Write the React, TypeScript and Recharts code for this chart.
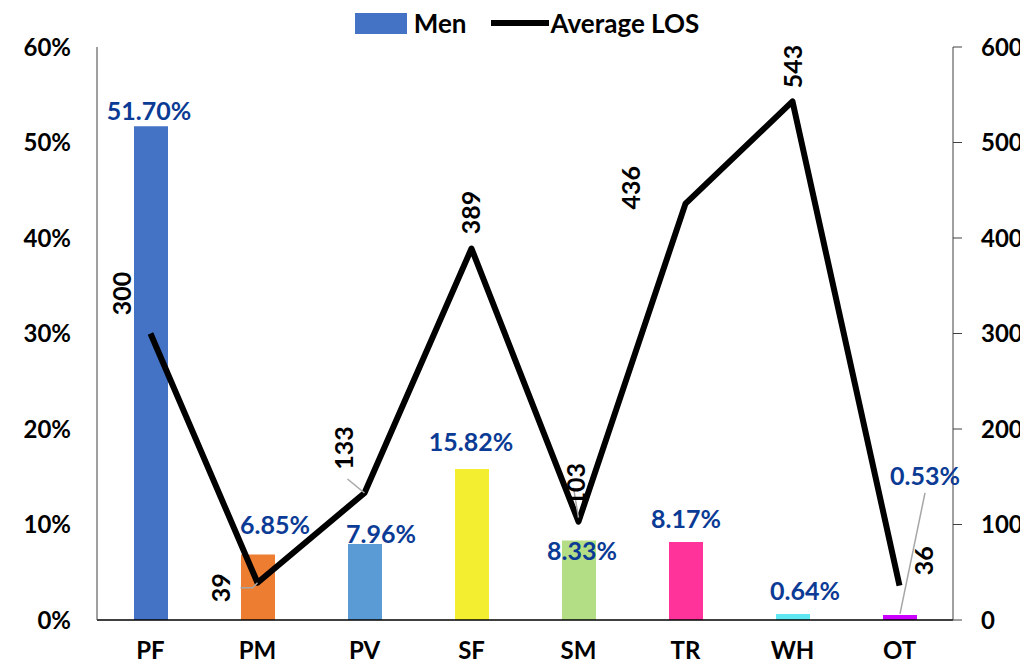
import React from 'react';
import {
  ComposedChart,
  Bar,
  Line,
  XAxis,
  YAxis,
  Cell,
  Legend,
  LabelList,
} from 'recharts';

const categories = ['PF', 'PM', 'PV', 'SF', 'SM', 'TR', 'WH', 'OT'];
const menShare = [51.7, 6.85, 7.96, 15.82, 8.33, 8.17, 0.64, 0.53];
const avgLos = [300, 39, 133, 389, 103, 436, 543, 36];
const barColors = ['#4472C4', '#ED7D31', '#5B9BD5', '#F4EE30', '#B4DE86', '#FF3399', '#5FE7F2', '#CC00FF'];
const leftTicks = [0, 10, 20, 30, 40, 50, 60];
const rightTicks = [0, 100, 200, 300, 400, 500, 600];

const data = categories.map((name, i) => ({
  name,
  men: menShare[i],
  los: avgLos[i],
}));

const FONT = 'Lato, "Open Sans", sans-serif';
const LABEL_BLUE = '#0B3B95';
const LEADER = '#A6A6A6';

// label nudges (dx, dy) so the texts sit where the original puts them
const barLabelShift = [[-2, -16], [17, -31], [16, -11], [-1, -28], [3, 10], [0, -24], [12, -24], [25, -140]];
const lineLabelShift = [[-30, -40], [-37, 5], [-21, -45], [-1, -36], [-3, -37], [-55, -16], [0, -35], [24, -25]];

const BarLabel = (props: any) => {
  const { x, y, width, value, index } = props;
  const cx = x + width / 2;
  const [dx, dy] = barLabelShift[index];
  return (
    <g>
      {index === 7 && (
        <line x1={cx} y1={y - 1} x2={cx + dx} y2={y + dy + 18} stroke={LEADER} strokeWidth={1.5} />
      )}
      <text
        x={cx + dx}
        y={y + dy}
        textAnchor="middle"
        dominantBaseline="central"
        fill={LABEL_BLUE}
        fontFamily={FONT}
        fontWeight={700}
        fontSize={25}
      >
        {Number(value).toFixed(2)}%
      </text>
    </g>
  );
};

const LineLabel = (props: any) => {
  const { x, y, value, index } = props;
  const [dx, dy] = lineLabelShift[index];
  const tx = x + dx;
  const ty = y + dy;
  let leader = null;
  if (index === 1) {
    leader = <polyline points={`${x},${y} ${x - 5},${y + 5} ${x - 17},${y + 5}`} fill="none" stroke={LEADER} strokeWidth={1.5} />;
  } else if (index === 2) {
    leader = <line x1={x} y1={y} x2={x - 17} y2={y - 14} stroke={LEADER} strokeWidth={1.5} />;
  } else if (index === 4) {
    leader = <line x1={x} y1={y - 4} x2={x - 5} y2={y - 34} stroke={LEADER} strokeWidth={1.5} />;
  }
  return (
    <g>
      {leader}
      <text
        x={tx}
        y={ty}
        transform={`rotate(-90, ${tx}, ${ty})`}
        textAnchor="middle"
        dominantBaseline="central"
        fill="#000"
        fontFamily={FONT}
        fontWeight={700}
        fontSize={25}
      >
        {value}
      </text>
    </g>
  );
};

const renderLegend = () => (
  <div
    style={{
      height: 39,
      display: 'flex',
      justifyContent: 'center',
      alignItems: 'flex-start',
      fontFamily: FONT,
      fontWeight: 700,
      fontSize: 26,
      color: '#000',
      paddingLeft: 18,
      boxSizing: 'border-box',
    }}
  >
    <div style={{ display: 'flex', alignItems: 'center', height: 30, marginRight: 24 }}>
      <span style={{ display: 'inline-block', width: 52, height: 21, background: '#4472C4', marginRight: 7 }} />
      Men
    </div>
    <div style={{ display: 'flex', alignItems: 'center', height: 30 }}>
      <span style={{ display: 'inline-block', width: 58, height: 6, background: '#000', marginRight: 2 }} />
      Average LOS
    </div>
  </div>
);

const tickStyle = { fontFamily: FONT, fontWeight: 700, fontSize: 24, fill: '#000' };

export default function App() {
  return (
    <ComposedChart
      width={1020}
      height={659}
      data={data}
      margin={{ top: 0, right: 0, bottom: 0, left: 0 }}
    >
      <Legend verticalAlign="top" content={renderLegend} />
      <XAxis
        dataKey="name"
        tickLine={false}
        tickSize={0}
        tickMargin={22}
        height={47}
        axisLine={{ stroke: '#000', strokeWidth: 1.5 }}
        tick={tickStyle}
      />
      <YAxis
        yAxisId="left"
        domain={[0, 60]}
        ticks={leftTicks}
        tickFormatter={(v: number) => `${v}%`}
        width={89}
        tickLine={false}
        tickSize={0}
        tickMargin={26}
        axisLine={{ stroke: '#404040', strokeWidth: 1 }}
        tick={tickStyle}
      />
      <YAxis
        yAxisId="right"
        orientation="right"
        domain={[0, 600]}
        ticks={rightTicks}
        width={75}
        tickSize={9}
        tickMargin={19}
        tickLine={{ stroke: '#404040' }}
        axisLine={{ stroke: '#404040', strokeWidth: 1 }}
        tick={{ ...tickStyle, textAnchor: 'start' }}
      />
      <Bar yAxisId="left" dataKey="men" name="Men" barSize={34} isAnimationActive={false}>
        {data.map((d, i) => (
          <Cell key={d.name} fill={barColors[i]} />
        ))}
        <LabelList dataKey="men" content={BarLabel} />
      </Bar>
      <Line
        yAxisId="right"
        type="linear"
        dataKey="los"
        name="Average LOS"
        stroke="#000"
        strokeWidth={6}
        strokeLinejoin="round"
        dot={false}
        activeDot={false}
        isAnimationActive={false}
      >
        <LabelList dataKey="los" content={LineLabel} />
      </Line>
    </ComposedChart>
  );
}
